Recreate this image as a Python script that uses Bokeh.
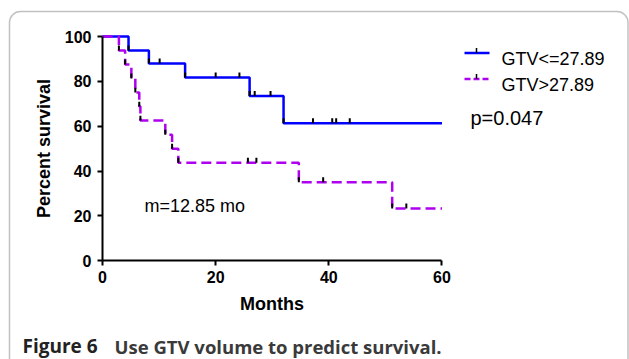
from bokeh.plotting import figure
from bokeh.models import Range1d, FixedTicker, Label, Arrow, BoxAnnotation
from bokeh.embed import file_html
from bokeh.resources import INLINE

# Kaplan-Meier data (months, percent survival)
low_drop_times = [4.6, 8.2, 14.6, 26.0, 32.0]
low_drop_levels = [93.8, 88.0, 81.7, 73.5, 61.3]
low_censor_times = [10.1, 20.0, 24.2, 26.9, 29.7, 37.2, 40.6, 41.3, 43.7]

high_drop_times = [2.9, 4.0, 5.1, 5.8, 6.5, 6.7, 11.1, 12.3, 13.4, 34.7, 51.2]
high_drop_levels = [93.75, 87.5, 81.25, 75.0, 68.75, 62.5, 56.25, 50.0, 43.75, 35.0, 23.33]
high_censor_times = [25.7, 27.2, 39.0, 53.7]

end_time = 60
x_ticks = [0, 20, 40, 60]
y_ticks = [0, 20, 40, 60, 80, 100]

legend_labels = ["GTV<=27.89", "GTV>27.89"]
p_value_text = "p=0.047"
median_text = "m=12.85 mo"
caption_bold = "Figure 6"
caption_rest = "Use GTV volume to predict survival."

BLUE = "#0000ff"
PURPLE = "#b000f0"
AXIS_FONT = "Liberation Sans"
TICK_H = 2.2  # censor/event tick height in percent units

W, H = 629, 359
# pixel placement of the plotting area on the canvas
X0_PX, PX_PER_MONTH = 102.0, 5.658
Y0_PX, PX_PER_PCT = 260.3, 2.243


def level_at(t, times, levels):
    lvl = 100.0
    for tt, ll in zip(times, levels):
        if tt <= t:
            lvl = ll
    return lvl


p = figure(
    width=W, height=H,
    min_border=0,
    x_range=Range1d(-X0_PX / PX_PER_MONTH, (W - X0_PX) / PX_PER_MONTH),
    y_range=Range1d(-(H - Y0_PX) / PX_PER_PCT, Y0_PX / PX_PER_PCT),
    output_backend="svg", toolbar_location=None,
    background_fill_color="white", border_fill_color="white",
)
p.outline_line_color = None
p.grid.visible = False

for ax, ticks, bounds, label in (
    (p.xaxis[0], x_ticks, (0, 60), "Months"),
    (p.yaxis[0], y_ticks, (0, 100), "Percent survival"),
):
    ax.fixed_location = 0
    ax.ticker = FixedTicker(ticks=ticks)
    ax.bounds = bounds
    ax.axis_label = label
    ax.axis_line_width = 2
    ax.axis_line_color = "black"
    ax.major_tick_line_width = 2
    ax.major_tick_line_color = "black"
    ax.major_tick_out = 5
    ax.major_tick_in = 0
    ax.minor_tick_line_color = None
    ax.major_label_text_font = AXIS_FONT
    ax.major_label_text_font_style = "bold"
    ax.major_label_text_font_size = "16px"
    ax.major_label_text_color = "black"
    ax.axis_label_text_font = AXIS_FONT
    ax.axis_label_text_font_style = "bold"
    ax.axis_label_text_font_size = "18px"
    ax.axis_label_text_color = "black"

p.xaxis.major_label_standoff = 5
p.xaxis.axis_label_standoff = 8
p.yaxis.major_label_standoff = 6
p.yaxis.axis_label_standoff = 8

# survival curves
p.step([0] + low_drop_times + [end_time],
       [100] + low_drop_levels + [low_drop_levels[-1]],
       mode="after", line_color=BLUE, line_width=2.5)
p.step([0] + high_drop_times + [end_time],
       [100] + high_drop_levels + [high_drop_levels[-1]],
       mode="after", line_color=PURPLE, line_width=2.5, line_dash="10 5")

# tick marks at events and censored observations
for times, levels, censor in (
    (low_drop_times, low_drop_levels, low_censor_times),
    (high_drop_times, high_drop_levels, high_censor_times),
):
    tx = list(times) + list(censor)
    ty = list(levels) + [level_at(t, times, levels) for t in censor]
    p.segment(x0=tx, y0=ty, x1=tx, y1=[v + TICK_H for v in ty],
              line_color="black", line_width=2)

# legend
legend_rows = [(52.5, BLUE, None, 58.5), (78.5, PURPLE, "6 3", 84.5)]
for (ly, col, dash, base), text in zip(legend_rows, legend_labels):
    kw = dict(line_dash=dash) if dash else {}
    p.add_layout(Arrow(x_start=464, y_start=ly, x_end=489, y_end=ly,
                       start_units="canvas", end_units="canvas",
                       start=None, end=None, line_color=col, line_width=2.5, **kw))
    p.add_layout(Arrow(x_start=476, y_start=ly, x_end=476, y_end=ly - 5,
                       start_units="canvas", end_units="canvas",
                       start=None, end=None, line_color="black", line_width=1.5))
    p.add_layout(Label(x=501, y=base, x_units="canvas", y_units="canvas",
                       text=text, text_font=AXIS_FONT, text_font_size="18px",
                       text_color="black", text_baseline="alphabetic"))

p.add_layout(Label(x=470, y=117.5, x_units="canvas", y_units="canvas",
                   text=p_value_text, text_font=AXIS_FONT, text_font_size="20px",
                   text_color="black", text_baseline="alphabetic"))
p.add_layout(Label(x=144, y=205, x_units="canvas", y_units="canvas",
                   text=median_text, text_font=AXIS_FONT, text_font_size="18px",
                   text_color="black", text_baseline="alphabetic"))

# caption
p.add_layout(Label(x=22, y=345.5, x_units="canvas", y_units="canvas",
                   text=caption_bold, text_font="Open Sans", text_font_style="bold",
                   text_font_size="19px", text_color="#222222",
                   text_baseline="alphabetic"))
p.add_layout(Label(x=114, y=345.5, x_units="canvas", y_units="canvas",
                   text=caption_rest, text_font="Open Sans", text_font_style="bold",
                   text_font_size="18.5px", text_color="#3a3a3a",
                   text_baseline="alphabetic"))

# rounded frame around the figure panel
p.add_layout(BoxAnnotation(left=9, right=627.5, top=11, bottom=380,
                           left_units="canvas", right_units="canvas",
                           top_units="canvas", bottom_units="canvas",
                           fill_color=None, line_color="#333333", line_width=1.5,
                           border_radius=11, propagate_hover=False))

open("out.html", "w").write(file_html(p, INLINE))
